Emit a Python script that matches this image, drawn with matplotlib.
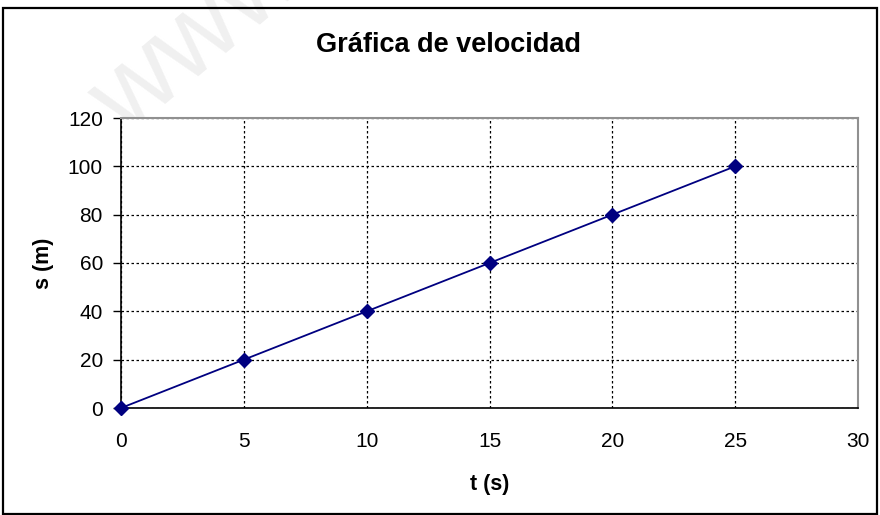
import matplotlib.pyplot as plt
from matplotlib.patches import Rectangle

plt.rcParams['font.family'] = ['Liberation Sans', 'DejaVu Sans']

# data
t_values = [0, 5, 10, 15, 20, 25]
s_values = [0, 20, 40, 60, 80, 100]
x_ticks = [0, 5, 10, 15, 20, 25, 30]
y_ticks = [0, 20, 40, 60, 80, 100, 120]

W, H = 880, 515
fig = plt.figure(figsize=(W / 100, H / 100), dpi=100)

# outer chart frame
fig.patches.append(Rectangle((3 / W, 1 - 514 / H), 874 / W, 506 / H, transform=fig.transFigure,
                             fill=False, edgecolor='black', linewidth=1.6))

# faint watermark (cut by the top edge as in the source picture)
fig.text(125 / W, 1 - 138 / H, 'www', rotation=40, rotation_mode='anchor',
         fontsize=80, color='#f0f0f0', ha='left', va='baseline', zorder=0)

ax = fig.add_axes([121 / W, 1 - 408 / H, (858 - 121) / W, (408 - 118) / H])
ax.set_zorder(1)
ax.plot(t_values, s_values, color='#000080', linewidth=1.3,
        marker='D', markersize=7, markerfacecolor='#000080', clip_on=False, zorder=3)

ax.set_xlim(0, 30)
ax.set_ylim(0, 120)
ax.set_xticks(x_ticks)
ax.set_yticks(y_ticks)
ax.grid(True, color='black', linestyle=(0, (2, 2)), linewidth=0.9)
ax.set_axisbelow(True)

for side in ['top', 'right']:
    ax.spines[side].set_color('#909090')
    ax.spines[side].set_linewidth(1.5)
for side in ['left', 'bottom']:
    ax.spines[side].set_color('black')
    ax.spines[side].set_linewidth(1.2)

ax.tick_params(axis='y', direction='out', length=6, width=1, labelsize=15, pad=7)
ax.tick_params(axis='x', length=0, labelsize=15, pad=17)

fig.text(448 / W, 1 - 45 / H, 'Gráfica de velocidad', ha='center', va='center',
         fontsize=19.5, fontweight='bold')
ax.set_xlabel('t (s)', fontsize=15.5, fontweight='bold', labelpad=17)
ax.set_ylabel('s (m)', fontsize=15.5, fontweight='bold', labelpad=10)

plt.savefig('out.png', dpi=100)
